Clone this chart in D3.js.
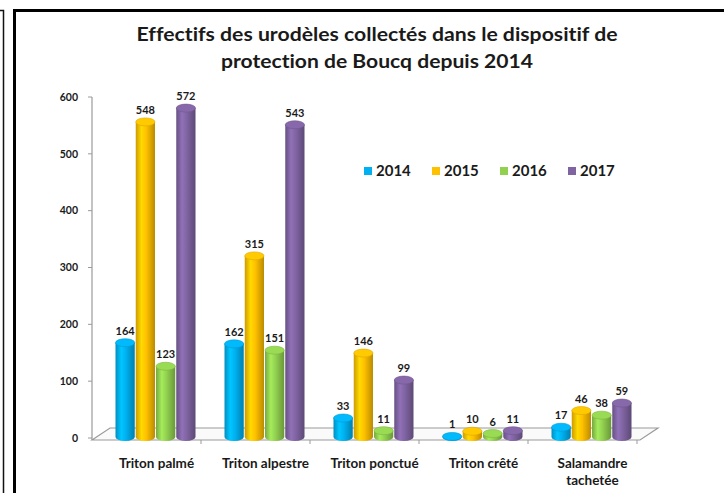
<!DOCTYPE html>
<html><head><meta charset="utf-8">
<script src="https://cdn.jsdelivr.net/npm/d3@7"></script>
<style>
body{margin:0;background:#fff}
svg{display:block}
text{font-family:Lato,"Open Sans",sans-serif;font-weight:bold;font-variant-ligatures:none;font-feature-settings:"liga" 0,"dlig" 0}
</style>
</head><body>
<svg id="c" width="724" height="493"></svg>
<script>
const categories = ["Triton palmé","Triton alpestre","Triton ponctué","Triton crêté","Salamandre tachetée"];
const categoryLines = [["Triton palmé"],["Triton alpestre"],["Triton ponctué"],["Triton crêté"],["Salamandre","tachetée"]];
const years = ["2014","2015","2016","2017"];
const v2014 = [164,162,33,1,17];
const v2015 = [548,315,146,10,46];
const v2016 = [123,151,11,6,38];
const v2017 = [572,543,99,11,59];
const yTicks = [0,100,200,300,400,500,600];
const colors = ["#00B0F0","#FFC000","#92D050","#8064A2"];
const titleLines = ["Effectifs des urodèles collectés dans le dispositif de","protection de Boucq depuis 2014"];

const series = [v2014,v2015,v2016,v2017];
const svg = d3.select("#c");

// frames
svg.append("path").attr("d","M0,10.5H3.5V493").attr("fill","none").attr("stroke","#111").attr("stroke-width",1.5);
svg.append("rect").attr("x",14.5).attr("y",10.5).attr("width",800).attr("height",600)
  .attr("fill","#fff").attr("stroke","#000").attr("stroke-width",3);

// title
const tl = svg.append("g");
tl.append("text").attr("x",377).attr("y",41).attr("text-anchor","middle").attr("font-size",18.5)
  .attr("fill","#1a1a1a").attr("textLength",481).attr("lengthAdjust","spacingAndGlyphs").text(titleLines[0]);
tl.append("text").attr("x",377).attr("y",68).attr("text-anchor","middle").attr("font-size",18.5)
  .attr("fill","#1a1a1a").attr("textLength",312).attr("lengthAdjust","spacingAndGlyphs").text(titleLines[1]);

// scales
const depthX = 18, depthY = -12;
const frontLeft = 92, frontRight = 637, frontY = 440;
const xAxis = d3.scaleBand().domain(categories).range([frontLeft, frontRight]);
const xMid = d3.scaleBand().domain(categories).range([frontLeft+depthX/2, frontRight+depthX/2]);
const x1 = d3.scaleBand().domain(years).range([-40,40]).paddingInner(0.05);
const yAxisScale = d3.scaleLinear().domain([0,600]).range([438,97]);
const yBar = d3.scaleLinear().domain([0,600]).range([437,92]);

// floor
const floor = svg.append("g");
floor.append("path")
  .attr("d",`M${frontLeft},${frontY}L${frontLeft+depthX},${frontY+depthY}L${frontRight+depthX+3},${frontY+depthY}L${frontRight+3},${frontY}Z`)
  .attr("fill","#fafafa").attr("stroke","#9a9a9a").attr("stroke-width",1.2);
floor.selectAll("line.ct").data(categories).join("line")
  .attr("x1",d=>xAxis(d)+xAxis.bandwidth()).attr("x2",d=>xAxis(d)+xAxis.bandwidth())
  .attr("y1",frontY).attr("y2",frontY+4).attr("stroke","#9a9a9a");

// y axis
const ya = svg.append("g");
ya.append("line").attr("x1",frontLeft).attr("x2",frontLeft).attr("y1",yAxisScale(600)).attr("y2",frontY)
  .attr("stroke","#9a9a9a").attr("stroke-width",1.2);
ya.selectAll("line.t").data(yTicks).join("line")
  .attr("x1",frontLeft-4).attr("x2",frontLeft).attr("y1",d=>yAxisScale(d)).attr("y2",d=>yAxisScale(d))
  .attr("stroke","#9a9a9a");
ya.selectAll("text").data(yTicks).join("text")
  .attr("x",78).attr("y",d=>yAxisScale(d)).attr("dy","0.35em").attr("text-anchor","end")
  .attr("font-size",10.5).attr("fill","#1a1a1a").text(d=>d);

// gradients
const defs = svg.append("defs");
colors.forEach((c,i)=>{
  const g = defs.append("linearGradient").attr("id","g"+i).attr("x1","0").attr("x2","1").attr("y1","0").attr("y2","0");
  const base = d3.color(c);
  g.append("stop").attr("offset","0%").attr("stop-color",base.darker(0.6));
  g.append("stop").attr("offset","30%").attr("stop-color",base.brighter(0.35));
  g.append("stop").attr("offset","55%").attr("stop-color",base);
  g.append("stop").attr("offset","100%").attr("stop-color",base.darker(0.9));
});

// bars
const ry = 4;
const bars = svg.append("g");
categories.forEach((cat,ci)=>{
  const cx0 = xMid(cat) + xMid.bandwidth()/2;
  years.forEach((yr,si)=>{
    const v = series[si][ci];
    const bx = cx0 + x1(yr);
    const bw = x1.bandwidth();
    const cx = bx + bw/2;
    const top = yBar(v), base = yBar(0);
    const g = bars.append("g");
    g.append("path")
      .attr("d",`M${bx},${top}L${bx},${base}A${bw/2},${ry} 0 0 0 ${bx+bw},${base}L${bx+bw},${top}Z`)
      .attr("fill",`url(#g${si})`);
    g.append("ellipse").attr("cx",cx).attr("cy",top).attr("rx",bw/2).attr("ry",ry)
      .attr("fill",d3.color(colors[si]).brighter(0.15)).attr("stroke",d3.color(colors[si]).darker(0.4)).attr("stroke-width",0.6);
    g.append("text").attr("x",cx).attr("y",top-ry-4).attr("text-anchor","middle")
      .attr("font-size",11).attr("fill","#1a1a1a").text(v);
  });
});

// category labels
const cl = svg.append("g");
categories.forEach((cat,ci)=>{
  const cx = xMid(cat)+xMid.bandwidth()/2 + 1;
  categoryLines[ci].forEach((ln,li)=>{
    cl.append("text").attr("x",cx).attr("y",463+li*17).attr("dy","0.35em").attr("text-anchor","middle")
      .attr("font-size",13.5).attr("fill","#1a1a1a").text(ln);
  });
});

// legend
const lg = svg.append("g");
years.forEach((yr,i)=>{
  const lx = 364 + i*68;
  lg.append("rect").attr("x",lx).attr("y",167).attr("width",8).attr("height",8).attr("fill",colors[i]);
  lg.append("text").attr("x",lx+12).attr("y",171).attr("dy","0.35em").attr("font-size",15)
    .attr("fill","#1a1a1a").text(yr);
});
</script>
</body></html>
